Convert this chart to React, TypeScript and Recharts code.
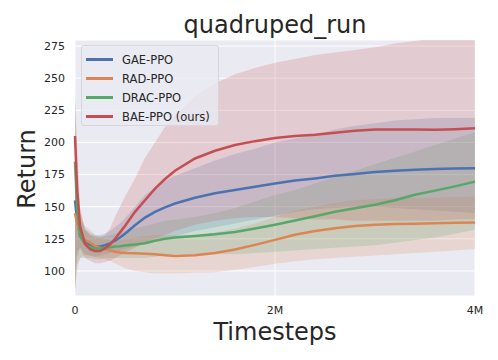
import { ComposedChart, Area, Line, XAxis, YAxis, CartesianGrid } from 'recharts'

// timesteps in millions
const steps = [0, 0.02, 0.05, 0.1, 0.15, 0.2, 0.25, 0.3, 0.35, 0.4, 0.45, 0.5, 0.6, 0.7, 0.8, 0.9, 1.0, 1.2, 1.4, 1.6, 1.8, 2.0, 2.2, 2.4, 2.6, 2.8, 3.0, 3.2, 3.4, 3.6, 3.8, 4.0]

const gaeMean = [155, 140, 128, 123, 120.5, 119, 119, 120, 121.5, 123.5, 126, 129, 135.5, 141.5, 146, 149.5, 152.5, 157, 160.5, 163, 165.5, 168, 170.3, 172, 174, 175.5, 177, 178, 178.8, 179.3, 179.7, 180]
const gaeLow = [100, 115, 118, 113, 112, 111, 112, 113, 114, 115, 116, 117, 119, 121, 123, 125, 127, 131, 134, 137, 140, 143, 146, 148, 149, 150, 150, 149, 148, 147, 146, 145]
const gaeHigh = [215, 170, 140, 133, 130, 128, 128, 129, 131, 134, 137, 141, 150, 159, 165, 170, 174, 180, 186, 191, 195, 200, 203, 206, 210, 213, 215, 217, 218, 219, 219, 219]

const radMean = [145, 138, 128, 124, 122, 119.5, 118, 117, 116, 115, 114.3, 114, 113.7, 113.4, 113, 112.3, 111.6, 112.2, 114, 116.7, 120.3, 124.2, 128.2, 131, 133.3, 135, 136, 136.5, 136.8, 137.2, 137.5, 137.6]
const radLow = [85, 100, 110, 112, 112, 111, 110, 109, 108, 106, 104, 102, 100, 99, 98, 98, 98, 98.5, 99, 101, 103, 105.5, 107.5, 109, 110, 111, 112, 113, 114, 115, 116, 117]
const radHigh = [200, 170, 145, 135, 132, 128, 126, 125, 124, 124, 124, 125, 126, 127, 128, 128, 128, 128, 130, 133, 137, 142, 147, 150, 153, 155, 156, 157, 157, 157, 157.5, 158]

const dracMean = [185, 150, 127, 121, 118.5, 117.5, 117.5, 118, 118.5, 119, 119.3, 119.8, 120.5, 121.5, 123.5, 125, 126, 127.2, 128.5, 130.3, 133, 136, 139.2, 142.5, 146, 148.8, 151.5, 155, 159.3, 162.5, 165.8, 169.5]
const dracLow = [80, 105, 110, 110, 110, 109, 109, 110, 110, 110, 110, 110, 110, 110, 111, 112, 113, 113, 113, 113, 114, 115, 116, 117, 118, 119, 120, 122, 124, 126, 129, 132]
const dracHigh = [240, 190, 145, 132, 128, 127, 127, 127, 128, 129, 130, 131, 133, 135, 137, 139, 140, 142, 145, 149, 154, 159, 163, 168, 173, 178, 183, 188, 193, 198, 203, 208]

const baeMean = [205, 165, 135, 121, 117, 115.5, 115.5, 117.5, 120.5, 125, 130, 135, 146, 155, 164, 171.5, 178, 187.5, 193.5, 198, 201, 203.5, 205, 206, 207.5, 209, 210, 210, 210, 209.8, 210.3, 211]
const baeLow = [85, 110, 118, 110, 108, 106, 106, 107, 108, 110, 112, 114, 118, 122, 125, 128, 131, 136, 139, 141, 142, 142, 141, 140, 140, 139, 139, 139, 139, 139, 140, 140]
const baeHigh = [235, 200, 150, 132, 128, 126, 126, 128, 133, 142, 150, 158, 172, 188, 200, 212, 221, 236, 246, 253, 258, 262, 265, 268, 270, 272, 274, 277, 279, 281, 282, 283]

const yTicks = [100, 125, 150, 175, 200, 225, 250, 275]
const xTicks = [0, 2, 4]

const series = [
    { key: 'gae', name: 'GAE-PPO', color: '#4C72B0' },
    { key: 'rad', name: 'RAD-PPO', color: '#DD8452' },
    { key: 'drac', name: 'DRAC-PPO', color: '#55A868' },
    { key: 'bae', name: 'BAE-PPO (ours)', color: '#C44E52' },
]

const data = steps.map((t, i) => ({
    t,
    gae: gaeMean[i], gaeBand: [gaeLow[i], gaeHigh[i]],
    rad: radMean[i], radBand: [radLow[i], radHigh[i]],
    drac: dracMean[i], dracBand: [dracLow[i], dracHigh[i]],
    bae: baeMean[i], baeBand: [baeLow[i], baeHigh[i]],
}))

const font = "'DejaVu Sans', sans-serif"
const textColor = '#262626'

export default function App() {
    return (
        <div style={{ position: 'absolute', left: 0, top: 0, width: 498, height: 360, background: '#fff', fontFamily: font }}>
            <ComposedChart width={498} height={360} data={data} margin={{ top: 40, right: 23, bottom: 34, left: 0 }}>
                <CartesianGrid fill='#EAEAF2' stroke='#ffffff' strokeWidth={1} />
                <XAxis
                    dataKey='t'
                    type='number'
                    domain={[0, 4]}
                    ticks={xTicks}
                    tickFormatter={(v) => (v === 0 ? '0' : `${v}M`)}
                    axisLine={false}
                    tickLine={false}
                    tickSize={0}
                    tickMargin={10}
                    height={30}
                    tick={{ fontSize: 11, fill: textColor, fontFamily: font }}
                />
                <YAxis
                    type='number'
                    domain={[80.5, 279.7]}
                    allowDataOverflow
                    ticks={yTicks}
                    axisLine={false}
                    tickLine={false}
                    tickSize={0}
                    tickMargin={10}
                    width={75}
                    tick={{ fontSize: 11, fill: textColor, fontFamily: font }}
                />
                {series.map((s) => (
                    <Area
                        key={s.key + 'Band'}
                        dataKey={s.key + 'Band'}
                        type='linear'
                        stroke='none'
                        fill={s.color}
                        fillOpacity={0.2}
                        isAnimationActive={false}
                        activeDot={false}
                    />
                ))}
                {series.map((s) => (
                    <Line
                        key={s.key}
                        dataKey={s.key}
                        type='linear'
                        stroke={s.color}
                        strokeWidth={2.5}
                        dot={false}
                        activeDot={false}
                        isAnimationActive={false}
                    />
                ))}
            </ComposedChart>

            <div style={{ position: 'absolute', left: 0, width: 550, top: 10, textAlign: 'center', fontSize: 24, color: textColor, lineHeight: '30px' }}>
                quadruped_run
            </div>
            <div style={{ position: 'absolute', left: 75, width: 400, top: 320, textAlign: 'center', fontSize: 24, color: textColor, lineHeight: '24px' }}>
                Timesteps
            </div>
            <div style={{ position: 'absolute', left: 27 - 60, top: 169 - 15, width: 120, textAlign: 'center', fontSize: 24, color: textColor, lineHeight: '30px', transform: 'rotate(-90deg)' }}>
                Return
            </div>

            <div style={{ position: 'absolute', left: 81, top: 45, width: 138, height: 81, boxSizing: 'border-box', background: 'rgba(234,234,242,0.8)', border: '1px solid #d6d6dc', borderRadius: 3, padding: '4px 0 0 4px' }}>
                {series.map((s) => (
                    <div key={s.key} style={{ display: 'flex', alignItems: 'center', height: 19 }}>
                        <div style={{ width: 27, height: 2.5, background: s.color, marginRight: 9 }} />
                        <span style={{ fontSize: 11.5, color: textColor }}>{s.name}</span>
                    </div>
                ))}
            </div>
        </div>
    )
}
